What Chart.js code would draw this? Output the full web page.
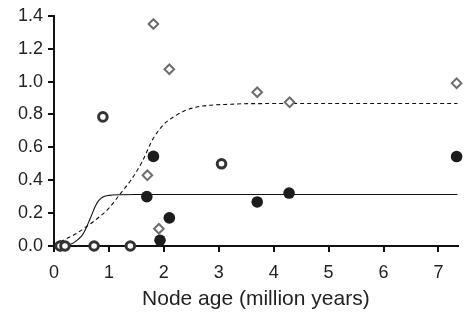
<!DOCTYPE html>
<html>
<head>
<meta charset="utf-8">
<script src="https://cdn.jsdelivr.net/npm/chart.js@4"></script>
<style>
  html, body { margin: 0; padding: 0; background: #fff; }
  #wrap { width: 465px; height: 314px; }
</style>
</head>
<body>
<div id="wrap"><canvas id="myChart" width="465" height="314"></canvas></div>
<script>
// scatter points (x = node age, y = value)
const diamondX = [0.12, 1.70, 1.81, 1.91, 2.10, 3.70, 4.29, 7.33]
const diamondY = [0.0, 0.43, 1.35, 0.105, 1.075, 0.935, 0.874, 0.99]

const openX = [0.11, 0.20, 0.73, 1.39, 0.89, 3.05]
const openY = [0.0, 0.0, 0.0, 0.0, 0.785, 0.50]

const filledX = [1.69, 1.81, 1.93, 2.10, 3.70, 4.28, 7.33]
const filledY = [0.30, 0.545, 0.035, 0.171, 0.268, 0.322, 0.544]

// fitted curves
const dashedX = [0.0, 0.2, 0.4, 0.6, 0.8, 1.0, 1.2, 1.4, 1.6, 1.8, 2.0, 2.2, 2.4, 2.6, 2.8, 3.2, 3.6, 7.35]
const dashedY = [0.01, 0.04, 0.075, 0.12, 0.17, 0.23, 0.315, 0.40, 0.51, 0.65, 0.74, 0.79, 0.825, 0.845, 0.855, 0.862, 0.866, 0.867]

const solidX = [0.0, 0.1, 0.2, 0.3, 0.4, 0.5, 0.55, 0.6, 0.65, 0.7, 0.75, 0.8, 0.85, 0.9, 1.0, 1.2, 1.5, 7.35]
const solidY = [0.0, 0.001, 0.003, 0.01, 0.03, 0.06, 0.085, 0.12, 0.16, 0.2, 0.24, 0.27, 0.288, 0.3, 0.308, 0.312, 0.313, 0.313]

const xTicks = [0, 1, 2, 3, 4, 5, 6, 7]
const yTicks = [0.0, 0.2, 0.4, 0.6, 0.8, 1.0, 1.2, 1.4]

function toPoints(xs, ys) {
    return xs.map((x, i) => ({ x: x, y: ys[i] }))
}

const font = "'Liberation Sans', Arial, Helvetica, sans-serif"

new Chart(document.getElementById("myChart"), {
    type: "scatter",
    data: {
        datasets: [{
            label: "filled",
            data: toPoints(filledX, filledY),
            pointStyle: "circle",
            pointRadius: 5.8,
            backgroundColor: "#1c1c1c",
            borderColor: "#1c1c1c",
            borderWidth: 0,
            clip: false
        }, {
            label: "open",
            data: toPoints(openX, openY),
            pointStyle: "circle",
            pointRadius: 4.3,
            backgroundColor: "#ffffff",
            borderColor: "#333333",
            borderWidth: 3,
            clip: false
        }, {
            label: "diamond",
            data: toPoints(diamondX, diamondY),
            pointStyle: "rectRot",
            pointRadius: 4.8,
            backgroundColor: "#ffffff",
            borderColor: "#6e6e6e",
            borderWidth: 2,
            clip: false
        }, {
            label: "dashed",
            data: toPoints(dashedX, dashedY),
            showLine: true,
            cubicInterpolationMode: "monotone",
            pointRadius: 0,
            borderColor: "#111",
            borderWidth: 1.1,
            borderDash: [4, 3]
        }, {
            label: "solid",
            data: toPoints(solidX, solidY),
            showLine: true,
            cubicInterpolationMode: "monotone",
            pointRadius: 0,
            borderColor: "#111",
            borderWidth: 1.1
        }]
    },
    options: {
        responsive: false,
        animation: false,
        layout: { padding: { top: 15, right: 0, left: 0, bottom: 0 } },
        plugins: {
            legend: { display: false },
            tooltip: { enabled: false }
        },
        scales: {
            x: {
                type: "linear",
                min: 0,
                max: 7.35,
                afterFit: (scale) => { scale.height = 68 },
                afterBuildTicks: (scale) => { scale.ticks = xTicks.map(v => ({ value: v })) },
                border: { display: true, color: "#111", width: 2 },
                grid: { drawOnChartArea: false, drawTicks: true, tickLength: 6, color: "#111", lineWidth: 2 },
                ticks: {
                    color: "#222",
                    padding: 10,
                    maxRotation: 0,
                    font: { family: font, size: 18 },
                    callback: (v) => String(v)
                },
                title: {
                    display: true,
                    text: "Node age (million years)",
                    color: "#222",
                    font: { family: font, size: 21 },
                    padding: { top: 0, bottom: 2 }
                }
            },
            y: {
                type: "linear",
                min: 0,
                max: 1.4,
                afterFit: (scale) => { scale.width = 54 },
                afterBuildTicks: (scale) => { scale.ticks = yTicks.map(v => ({ value: v })) },
                border: { display: true, color: "#111", width: 2 },
                grid: { drawOnChartArea: false, drawTicks: true, tickLength: 6, color: "#111", lineWidth: 2 },
                ticks: {
                    color: "#222",
                    padding: 5,
                    font: { family: font, size: 18 },
                    callback: (v) => Number(v).toFixed(1)
                }
            }
        }
    }
})
</script>
</body>
</html>
